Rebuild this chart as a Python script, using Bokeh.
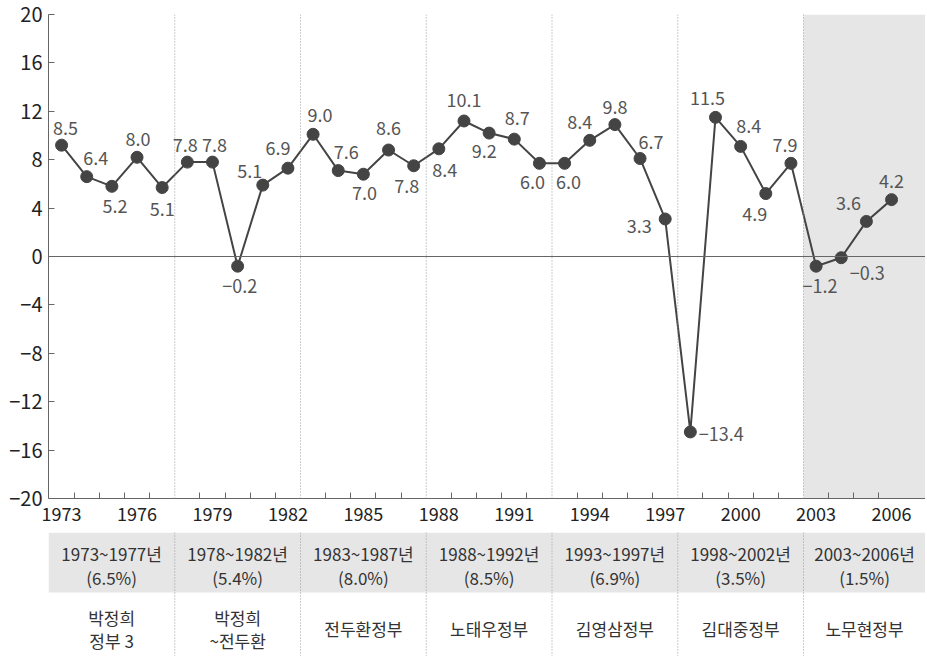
from bokeh.plotting import figure
from bokeh.models import Range1d, FixedTicker, Span, BoxAnnotation, ColumnDataSource
from bokeh.layouts import column
from bokeh.embed import file_html
from bokeh.resources import INLINE
from bokeh.core.properties import value

# ---- data ----
years = list(range(1973, 2007))
growth_points = [9.2, 6.6, 5.8, 8.2, 5.7, 7.8, 7.8, -0.8, 5.9, 7.3,
                 10.1, 7.1, 6.8, 8.8, 7.5, 8.9, 11.2, 10.2, 9.7, 7.7,
                 7.7, 9.6, 10.9, 8.1, 3.1, -14.5, 11.5, 9.1, 5.2, 7.7,
                 -0.8, -0.1, 2.9, 4.7]
growth_labels = ["8.5", "6.4", "5.2", "8.0", "5.1", "7.8", "7.8", "−0.2", "5.1", "6.9",
                 "9.0", "7.6", "7.0", "8.6", "7.8", "8.4", "10.1", "9.2", "8.7", "6.0",
                 "6.0", "8.4", "9.8", "6.7", "3.3", "−13.4", "11.5", "8.4", "4.9", "7.9",
                 "−1.2", "−0.3", "3.6", "4.2"]
year_ticks = [1973, 1976, 1979, 1982, 1985, 1988, 1991, 1994, 1997, 2000, 2003, 2006]
y_ticks = [-20, -16, -12, -8, -4, 0, 4, 8, 12, 16, 20]
period_bounds = [1977.5, 1982.5, 1987.5, 1992.5, 1997.5, 2002.5]
period_labels = ["1973~1977년\n(6.5%)", "1978~1982년\n(5.4%)", "1983~1987년\n(8.0%)",
                 "1988~1992년\n(8.5%)", "1993~1997년\n(6.9%)", "1998~2002년\n(3.5%)",
                 "2003~2006년\n(1.5%)"]
gov_labels = ["박정희\n정부 3", "박정희\n~전두환", "전두환정부", "노태우정부",
              "김영삼정부", "김대중정부", "노무현정부"]

# label placement (screen px offsets from each point)
label_dx = [4, 9, 3, 1, 0, -2, 2, 2, -13, -10,
            7, 8, 1, 0, -7, 6, 0, -5, 3, -7,
            4, -10, 0, 11, -26, 31, -8, 8, -11, -6,
            4, 26, -18, 0]
label_dy = [-17, -19, 20, -18, 21, -17, -17, 20, -14, -20,
            -19, -19, 19, -22, 20, 21, -21, 18, -21, 19,
            19, -18, -18, -16, 7, 2, -19, -20, 20, -18,
            20, 15, -18, -19]

FONT = value("Noto Sans CJK KR")
X0, X1 = 1972.48, 2007.35

p = figure(width=925, height=532, x_range=Range1d(X0, X1), y_range=Range1d(-20, 20),
           output_backend="svg", toolbar_location=None,
           min_border_left=48, min_border_right=0, min_border_top=14, min_border_bottom=34)
p.outline_line_color = None
p.grid.visible = False

p.add_layout(BoxAnnotation(left=period_bounds[-1], fill_color="#e6e6e6", fill_alpha=1,
                           line_color=None, level="underlay"))
for b in period_bounds:
    p.add_layout(Span(location=b, dimension="height", line_color="#9a9a9a",
                      line_width=1, line_dash="1 2"))
p.add_layout(Span(location=0, dimension="width", line_color="#666666", line_width=1))

src = ColumnDataSource(dict(x=years, y=growth_points, t=growth_labels,
                            dx=label_dx, dy=label_dy))
p.line("x", "y", source=src, line_color="#444444", line_width=2)
p.scatter("x", "y", source=src, size=12, fill_color="#444444", line_color="#444444")
p.text("x", "y", text="t", source=src, x_offset="dx", y_offset="dy",
       text_align="center", text_baseline="middle", text_font=FONT,
       text_font_size="18px", text_color="#555555")

p.yaxis.ticker = FixedTicker(ticks=y_ticks)
p.yaxis.major_label_overrides = {t: str(t).replace("-", "−") for t in y_ticks}
p.yaxis.major_tick_in = 6
p.yaxis.major_tick_out = 0
p.yaxis.minor_tick_line_color = None
p.yaxis.major_label_standoff = 6

minor = [y + 0.5 for y in years[:-1] if (y + 0.5) not in period_bounds]
p.xaxis.ticker = FixedTicker(ticks=year_ticks, minor_ticks=minor)
p.xaxis.major_tick_in = 0
p.xaxis.major_tick_out = 0
p.xaxis.minor_tick_in = 6
p.xaxis.minor_tick_out = 0
p.xaxis.major_label_standoff = 8

for ax in (p.xaxis, p.yaxis):
    ax.axis_line_color = "#666666"
    ax.major_tick_line_color = "#666666"
    ax.major_label_text_font = "Noto Sans CJK KR"
    ax.major_label_text_color = "#222222"
p.yaxis.major_label_text_font_size = "20px"
p.xaxis.major_label_text_font_size = "18px"
p.xaxis.minor_tick_line_color = "#666666"

# ---- table below ----
q = figure(width=925, height=124, x_range=p.x_range, y_range=Range1d(124, 0),
           output_backend="svg", toolbar_location=None,
           min_border_left=48, min_border_right=0, min_border_top=0, min_border_bottom=0)
q.axis.visible = False
q.grid.visible = False
q.outline_line_color = None
q.add_layout(BoxAnnotation(top=0, bottom=60, fill_color="#e6e6e6", fill_alpha=1,
                           line_color=None, level="underlay"))
for b in period_bounds:
    q.add_layout(Span(location=b, dimension="height", line_color="#9a9a9a",
                      line_width=1, line_dash="1 2"))

edges = [X0] + period_bounds + [X1]
centers = [(edges[i] + edges[i + 1]) / 2 for i in range(len(edges) - 1)]

# one text glyph per line, so line spacing is controlled
px, py, pt = [], [], []
for c, lab in zip(centers, period_labels):
    for k, line in enumerate(lab.split("\n")):
        px.append(c); py.append(21 + 24 * k); pt.append(line)
q.text(x=px, y=py, text=pt, text_align="center", text_baseline="middle",
       text_font=FONT, text_font_size="17px", text_color="#333333")

gx, gy, gt = [], [], []
for c, lab in zip(centers, gov_labels):
    lines = lab.split("\n")
    start = 96 - 11.5 * (len(lines) - 1)
    for k, line in enumerate(lines):
        gx.append(c); gy.append(start + 23 * k); gt.append(line)
q.text(x=gx, y=gy, text=gt, text_align="center", text_baseline="middle",
       text_font=FONT, text_font_size="17px", text_color="#333333")

layout = column(p, q, spacing=0)
open("out.html", "w").write(file_html(layout, INLINE))
